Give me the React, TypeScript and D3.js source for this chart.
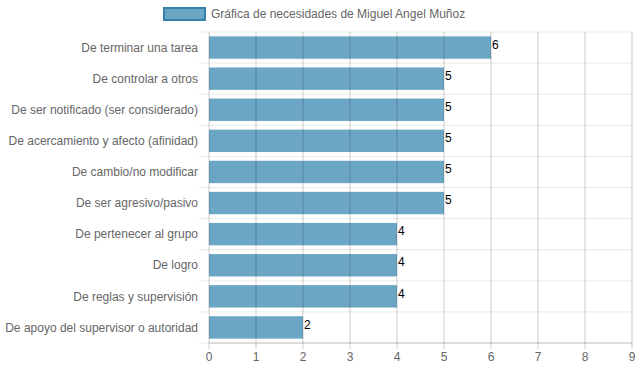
import React from 'react'
import { scaleLinear, scaleBand, range } from 'd3'

const categories = [
  'De terminar una tarea',
  'De controlar a otros',
  'De ser notificado (ser considerado)',
  'De acercamiento y afecto (afinidad)',
  'De cambio/no modificar',
  'De ser agresivo/pasivo',
  'De pertenecer al grupo',
  'De logro',
  'De reglas y supervisión',
  'De apoyo del supervisor o autoridad'
]
const values = [6, 5, 5, 5, 5, 5, 4, 4, 4, 2]
const ticks = range(0, 10)
const seriesName = 'Gráfica de necesidades de Miguel Angel Muñoz'

const W = 639
const H = 372
const M = { top: 32, right: 7, bottom: 29, left: 209 }
const BAR = '#6ca6c5'
const FONT = '"Liberation Sans", Arial, sans-serif'

export default function App() {
  const x = scaleLinear().domain([0, 9]).range([M.left, W - M.right])
  const y = scaleBand<string>().domain(categories).range([M.top, H - M.bottom])
  const bw = y.bandwidth() * 0.72
  const bottom = H - M.bottom

  return (
    <svg width={W} height={H} style={{ position: 'absolute', left: 0, top: 0 }} fontFamily={FONT}>
      <g className="legend">
        <rect x={164} y={8} width={41} height={12} fill={BAR} stroke="#3682ab" strokeWidth={2} />
        <text x={211} y={14} dy="0.35em" fontSize={12} fill="#666">{seriesName}</text>
      </g>
      <g className="hgrid">
        {range(categories.length + 1).map((i) => {
          const yy = M.top + i * y.step()
          return <line key={i} x1={M.left - 10} x2={W - M.right} y1={yy} y2={yy} stroke="#ebebeb" strokeWidth={1} />
        })}
      </g>
      <g className="bars">
        {categories.map((c, i) => (
          <rect key={c} x={x(0)} y={y(c)! + (y.bandwidth() - bw) / 2} width={x(values[i]) - x(0)} height={bw} fill={BAR} />
        ))}
      </g>
      <g className="vgrid">
        {ticks.map((t) => (
          <line key={t} x1={x(t)} x2={x(t)} y1={M.top} y2={bottom + 6} stroke="rgba(0,0,0,0.2)" strokeWidth={1} />
        ))}
        <line x1={M.left} x2={W - M.right} y1={bottom} y2={bottom} stroke="rgba(0,0,0,0.2)" />
      </g>
      <g className="xaxis">
        {ticks.map((t) => (
          <text key={t} x={x(t)} y={bottom + 14} dy="0.35em" textAnchor="middle" fontSize={12} fill="#666">{t}</text>
        ))}
      </g>
      <g className="yaxis">
        {categories.map((c) => (
          <text key={c} x={M.left - 11} y={y(c)! + y.bandwidth() / 2} dy="0.35em" textAnchor="end" fontSize={12} fill="#666">{c}</text>
        ))}
      </g>
      <g className="labels">
        {categories.map((c, i) => (
          <text key={c} x={x(values[i]) + 1} y={y(c)! + y.bandwidth() / 2 - 3} dy="0.35em" fontSize={12} fill="#000">{values[i]}</text>
        ))}
      </g>
    </svg>
  )
}
